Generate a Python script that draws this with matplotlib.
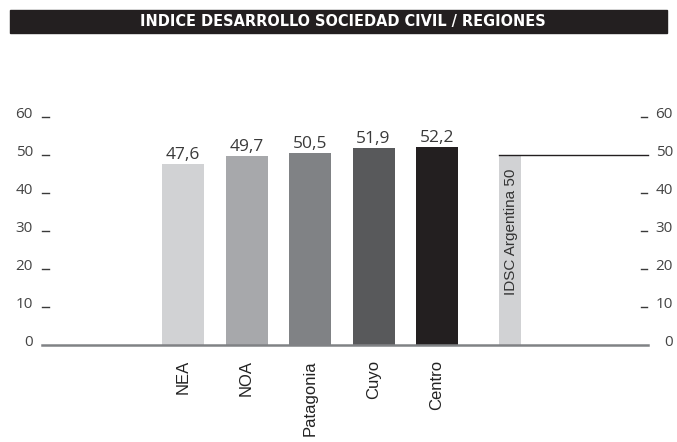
import matplotlib
matplotlib.use("Agg")
from matplotlib import pyplot as plt
from matplotlib.patches import Rectangle

# Data
regions = ["NEA", "NOA", "Patagonia", "Cuyo", "Centro"]
values = [47.6, 49.7, 50.5, 51.9, 52.2]
value_labels = ["47,6", "49,7", "50,5", "51,9", "52,2"]
bar_colors = ["#d1d2d4", "#a7a8ab", "#808285", "#58595b", "#231f20"]
argentina_label = "IDSC Argentina 50"
argentina_value = 50
yticks = [0, 10, 20, 30, 40, 50, 60]
title = "INDICE DESARROLLO SOCIEDAD CIVIL / REGIONES"

numfont = ["Open Sans", "DejaVu Sans"]
labfont = ["Liberation Sans", "DejaVu Sans"]
txtcol = "#3a3a3a"

fig = plt.figure(figsize=(6.77, 4.42), dpi=100)
# x in pixel units, y in data units (0 at px 345, 60 at px 117)
ax = fig.add_axes([0, (442 - 345) / 442, 1, (345 - 117) / 442])
ax.set_xlim(0, 677)
ax.set_ylim(0, 60)
ax.axis("off")

# Bars
centers = [183 + 63.5 * i for i in range(len(regions))]
ax.bar(centers, values, width=42, color=bar_colors, zorder=2)
for c, v, lab in zip(centers, values, value_labels):
    ax.text(c, v + 1.3, lab, ha="center", va="baseline", fontsize=12.5,
            family=numfont, color=txtcol)

for c, name in zip(centers, regions):
    ax.text(c, -4.0, name, rotation=90, ha="center", va="top", fontsize=12,
            family=labfont, color="#222222", clip_on=False)

# Argentina reference bar and line
ax.bar(510, argentina_value, width=22, color="#d1d2d4", zorder=2)
ax.plot([499, 648], [argentina_value, argentina_value], color="#231f20", lw=1.0, zorder=3)
ax.text(511, argentina_value - 3.6, argentina_label, rotation=90, ha="center", va="top",
        fontsize=11, family=labfont, color="#333333", zorder=4)

# Baseline
ax.plot([42, 648], [0, 0], color="#808285", lw=1.8, zorder=3, clip_on=False)

# Tick labels with dash marks on both sides
for t in yticks:
    ax.text(33, t - 0.2, str(t), ha="right", va="baseline", fontsize=11, family=numfont,
            color="#444444", clip_on=False)
    ax.text(673, t - 0.2, str(t), ha="right", va="baseline", fontsize=11, family=numfont,
            color="#444444", clip_on=False)
    if t != 0:
        ax.plot([42, 49], [t, t], color=txtcol, lw=1.0, clip_on=False)
    if t not in (0, 50):
        ax.plot([641, 647], [t, t], color=txtcol, lw=1.0, clip_on=False)

# Title bar
fig.patches.append(Rectangle((10 / 677, 1 - 33 / 442), 657 / 677, 23 / 442,
                             transform=fig.transFigure, color="#231f20", zorder=0))
fig.text(343 / 677, 1 - 21.5 / 442, title, ha="center", va="center", color="white",
         fontsize=11.6, fontweight="bold", fontstretch="condensed",
         family=["DejaVu Sans", "Liberation Sans"])

plt.savefig("out.png", dpi=100)
